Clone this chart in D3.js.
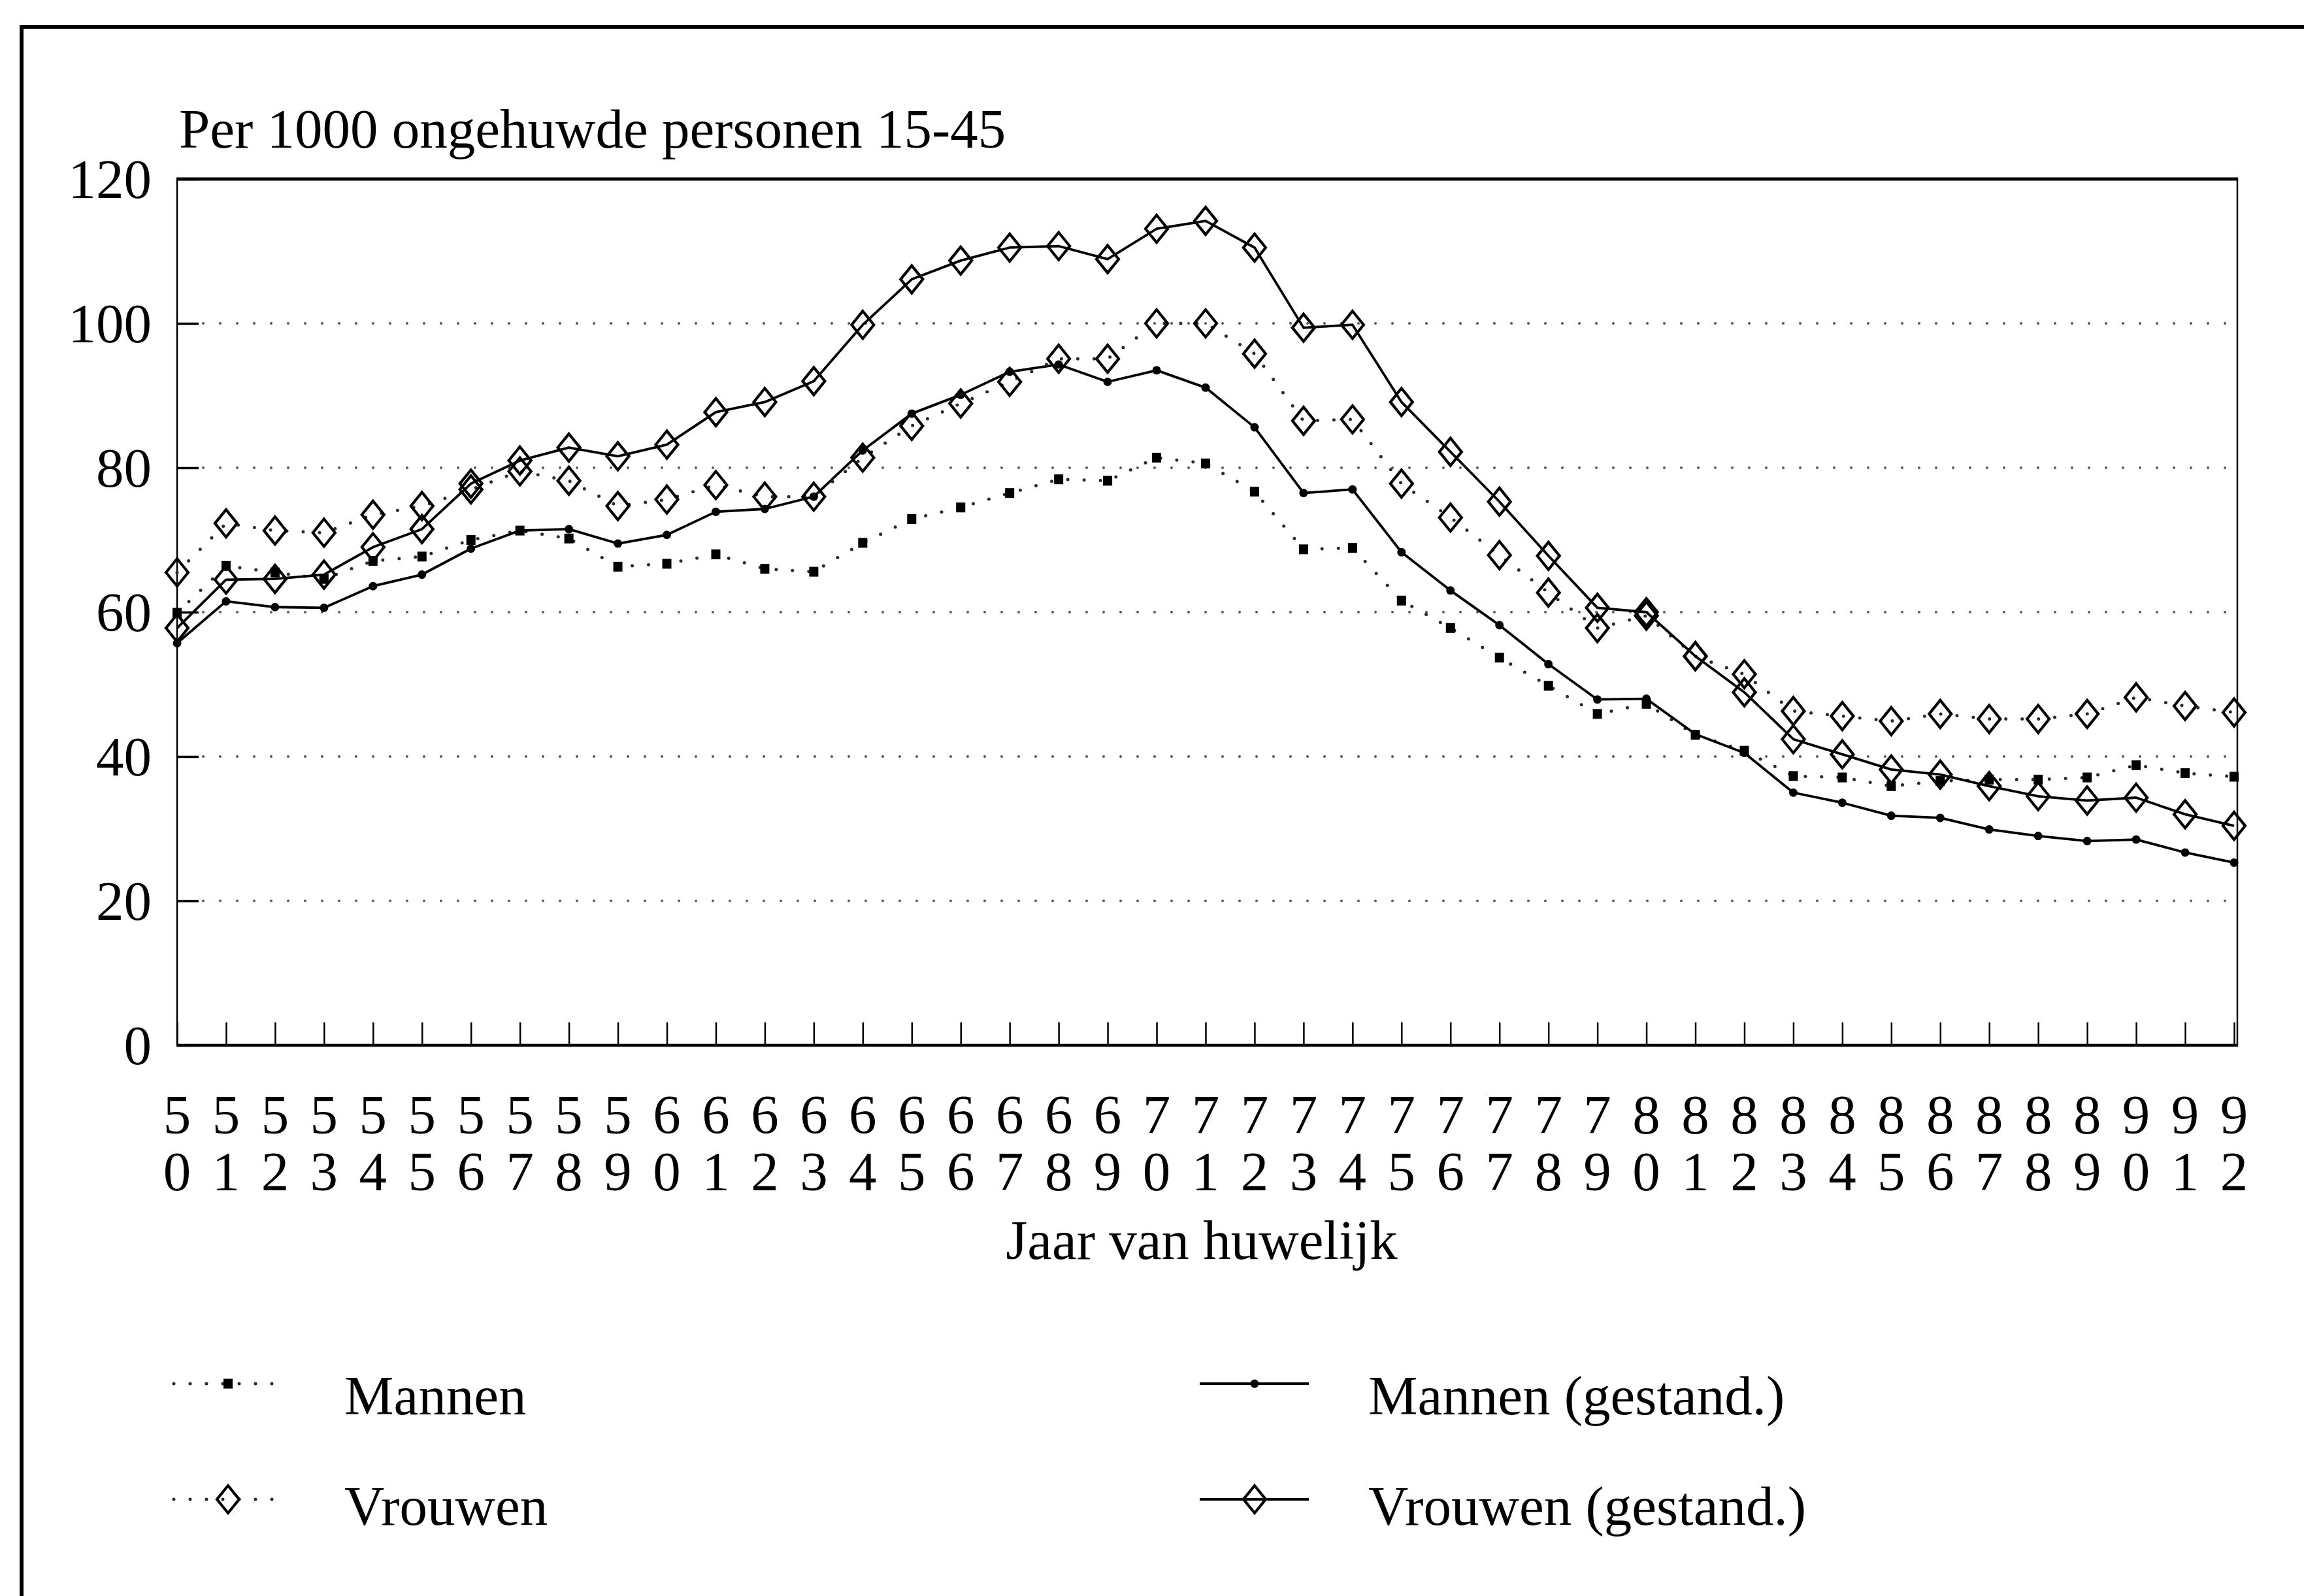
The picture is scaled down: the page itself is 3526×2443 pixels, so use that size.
<!DOCTYPE html>
<meta charset="utf-8">

<!-- Load d3.js -->
<script src="https://d3js.org/d3.v7.min.js"></script>

<style>
  body { margin: 0; background: #fff; }
  text { font-family: "Liberation Serif", "Times New Roman", serif; fill: #000; }
</style>

<!-- Create a div where the graph will take place -->
<div id="chart"></div>

<script>

  // data (per 1000 unmarried persons 15-45)
  var years = [1950, 1951, 1952, 1953, 1954, 1955, 1956, 1957, 1958, 1959,
               1960, 1961, 1962, 1963, 1964, 1965, 1966, 1967, 1968, 1969,
               1970, 1971, 1972, 1973, 1974, 1975, 1976, 1977, 1978, 1979,
               1980, 1981, 1982, 1983, 1984, 1985, 1986, 1987, 1988, 1989,
               1990, 1991, 1992];

  var mannen = [59.9, 66.4, 65.5, 64.6, 67.1, 67.7, 70.0, 71.3, 70.2, 66.3,
                66.7, 68.0, 66.0, 65.6, 69.6, 72.9, 74.5, 76.5, 78.4, 78.2,
                81.4, 80.6, 76.7, 68.7, 68.9, 61.6, 57.8, 53.7, 49.8, 45.9,
                47.3, 43.0, 40.8, 37.3, 37.1, 35.9, 36.6, 36.8, 36.8, 37.1,
                38.8, 37.7, 37.2];

  var mannenGestand = [55.7, 61.5, 60.7, 60.6, 63.6, 65.2, 68.8, 71.3, 71.5, 69.5,
                       70.7, 73.9, 74.3, 76.0, 82.4, 87.5, 90.1, 93.3, 94.3, 91.9,
                       93.5, 91.1, 85.6, 76.5, 77.0, 68.3, 63.0, 58.2, 52.8, 47.9,
                       48.0, 43.1, 40.5, 35.0, 33.6, 31.8, 31.5, 29.9, 29.0, 28.3,
                       28.5, 26.7, 25.3];

  var vrouwen = [65.5, 72.3, 71.3, 71.0, 73.5, 74.7, 77.0, 79.5, 78.2, 74.7,
                 75.6, 77.6, 76.0, 76.0, 81.4, 85.8, 88.9, 91.9, 95.1, 95.1,
                 100.0, 100.0, 95.8, 86.5, 86.7, 77.8, 73.1, 67.9, 62.7, 57.8,
                 59.5, 53.9, 51.4, 46.3, 45.6, 44.9, 45.9, 45.2, 45.2, 45.9,
                 48.2, 47.0, 46.1];

  var vrouwenGestand = [57.8, 64.5, 64.6, 65.2, 69.0, 71.5, 77.8, 81.0, 82.8, 81.6,
                        83.2, 87.7, 89.1, 92.0, 99.8, 106.1, 108.7, 110.5, 110.7, 108.9,
                        113.1, 114.2, 110.5, 99.4, 99.8, 89.1, 82.2, 75.3, 67.8, 60.6,
                        60.0, 53.9, 48.9, 42.4, 40.3, 38.2, 37.5, 35.9, 34.5, 33.9,
                        34.3, 32.0, 30.4];

  var yTicks = [0, 20, 40, 60, 80, 100, 120];
  var gridTicks = [20, 40, 60, 80, 100];

  var legendItems = [
    {label: "Mannen", values: mannen, dotted: true, marker: "square", col: 0, row: 0},
    {label: "Mannen (gestand.)", values: mannenGestand, dotted: false, marker: "dot", col: 1, row: 0},
    {label: "Vrouwen", values: vrouwen, dotted: true, marker: "diamond", col: 0, row: 1},
    {label: "Vrouwen (gestand.)", values: vrouwenGestand, dotted: false, marker: "diamond", col: 1, row: 1}
  ];

  // set the dimensions and margins of the graph
  var W = 3526, H = 2443;
  var margin = {top: 274, right: 107, bottom: 843, left: 271},
    width = W - margin.left - margin.right,
    height = H - margin.top - margin.bottom;

  var FS = 85;

  var root = d3.select("#chart")
    .append("svg")
    .attr("width", W)
    .attr("height", H);

  root.append("rect").attr("width", W).attr("height", H).attr("fill", "#fff");

  // outer frame (only left and top edges are inside the picture)
  root.append("path")
    .attr("d", "M33," + H + "V41H" + W)
    .attr("fill", "none")
    .attr("stroke", "#000")
    .attr("stroke-width", 6);

  var svg = root.append("g")
    .attr("transform", "translate(" + margin.left + "," + margin.top + ")");

  // scales
  var x = d3.scaleLinear().domain([1950, 1992]).range([0, width]);
  var y = d3.scaleLinear().domain([0, 120]).range([height, 0]);

  // dotted gridlines
  svg.append("g")
    .selectAll("line")
    .data(gridTicks)
    .enter()
    .append("line")
    .attr("x1", 40)
    .attr("x2", width - 4)
    .attr("y1", function (d) { return y(d); })
    .attr("y2", function (d) { return y(d); })
    .attr("stroke", "#555")
    .attr("stroke-width", 4)
    .attr("stroke-linecap", "round")
    .attr("stroke-dasharray", "0,26");

  // Y axis (ticks point inward)
  var yAxis = svg.append("g")
    .call(d3.axisLeft(y).tickValues(yTicks).tickSize(-33).tickPadding(39));
  yAxis.select(".domain").remove();
  yAxis.selectAll(".tick line").attr("stroke", "#000").attr("stroke-width", 3.5);
  yAxis.selectAll(".tick text")
    .attr("font-size", FS)
    .attr("font-family", null)
    .attr("dy", "0.33em");

  // X axis (ticks point inward, labels in two rows)
  var xAxis = svg.append("g")
    .attr("transform", "translate(0," + height + ")")
    .call(d3.axisBottom(x).tickValues(years).tickSize(-35).tickFormat(""));
  xAxis.select(".domain").remove();
  xAxis.selectAll(".tick line").attr("stroke", "#000").attr("stroke-width", 2.5);

  var xLabels = svg.append("g").attr("font-size", FS).attr("text-anchor", "middle");
  xLabels.selectAll("text.dec")
    .data(years)
    .enter()
    .append("text")
    .attr("class", "dec")
    .attr("x", function (d) { return x(d); })
    .attr("y", height + 135)
    .text(function (d) { return String(d).charAt(2); });
  xLabels.selectAll("text.unit")
    .data(years)
    .enter()
    .append("text")
    .attr("class", "unit")
    .attr("x", function (d) { return x(d); })
    .attr("y", height + 222)
    .text(function (d) { return String(d).charAt(3); });

  // plot frame
  svg.append("line").attr("x1", -1).attr("x2", width + 6).attr("y1", 0).attr("y2", 0)
    .attr("stroke", "#000").attr("stroke-width", 5);
  svg.append("line").attr("x1", -1).attr("x2", width + 6).attr("y1", height).attr("y2", height)
    .attr("stroke", "#000").attr("stroke-width", 4.5);
  svg.append("line").attr("x1", 0).attr("x2", 0).attr("y1", 0).attr("y2", height)
    .attr("stroke", "#000").attr("stroke-width", 2.5);
  svg.append("line").attr("x1", width + 5).attr("x2", width + 5).attr("y1", 0).attr("y2", height)
    .attr("stroke", "#000").attr("stroke-width", 2.5);

  // title and axis label
  root.append("text")
    .attr("x", 274)
    .attr("y", 226)
    .attr("font-size", FS)
    .text("Per 1000 ongehuwde personen 15-45");

  root.append("text")
    .attr("text-anchor", "middle")
    .attr("x", margin.left + width / 2 - 6)
    .attr("y", 1927)
    .attr("font-size", FS)
    .text("Jaar van huwelijk");

  // marker drawing
  var diamondPath = "M0,-21L17,0L0,21L-17,0Z";

  function drawMarker(g, kind, cx, cy) {
    if (kind === "square") {
      g.append("rect")
        .attr("x", cx - 7).attr("y", cy - 7.5)
        .attr("width", 14).attr("height", 15)
        .attr("fill", "#000");
    } else if (kind === "dot") {
      g.append("circle")
        .attr("cx", cx).attr("cy", cy).attr("r", 6.5)
        .attr("fill", "#000");
    } else {
      g.append("path")
        .attr("d", diamondPath)
        .attr("transform", "translate(" + cx + "," + cy + ")")
        .attr("fill", "none")
        .attr("stroke", "#000")
        .attr("stroke-width", 4.2);
    }
  }

  function styleLine(sel, dotted) {
    if (dotted) {
      sel.attr("stroke", "#2a2a2a")
        .attr("stroke-width", 5)
        .attr("stroke-linecap", "round")
        .attr("stroke-dasharray", "0,25");
    } else {
      sel.attr("stroke", "#000")
        .attr("stroke-width", 3.8)
        .attr("stroke-linejoin", "round");
    }
    return sel;
  }

  var line = d3.line()
    .x(function (d, i) { return x(years[i]); })
    .y(function (d) { return y(d); });

  // lines
  legendItems.forEach(function (s) {
    styleLine(svg.append("path").datum(s.values).attr("fill", "none").attr("d", line), s.dotted);
  });

  // markers
  legendItems.forEach(function (s) {
    var g = svg.append("g");
    s.values.forEach(function (v, i) {
      drawMarker(g, s.marker, x(years[i]), y(v));
    });
  });

  // Legend
  var legCols = [{x0: 266, x1: 424, mx: 349, tx: 527}, {x0: 1836, x1: 2003, mx: 1920, tx: 2094}];
  var legRows = [{sy: 2118, ty: 2165}, {sy: 2295, ty: 2334}];

  legendItems.forEach(function (s) {
    var c = legCols[s.col], r = legRows[s.row];
    var g = root.append("g");
    styleLine(g.append("line")
      .attr("x1", c.x0).attr("x2", c.x1)
      .attr("y1", r.sy).attr("y2", r.sy), s.dotted);
    drawMarker(g, s.marker, c.mx, r.sy);
    g.append("text")
      .attr("x", c.tx)
      .attr("y", r.ty)
      .attr("font-size", FS)
      .text(s.label);
  });

</script>
